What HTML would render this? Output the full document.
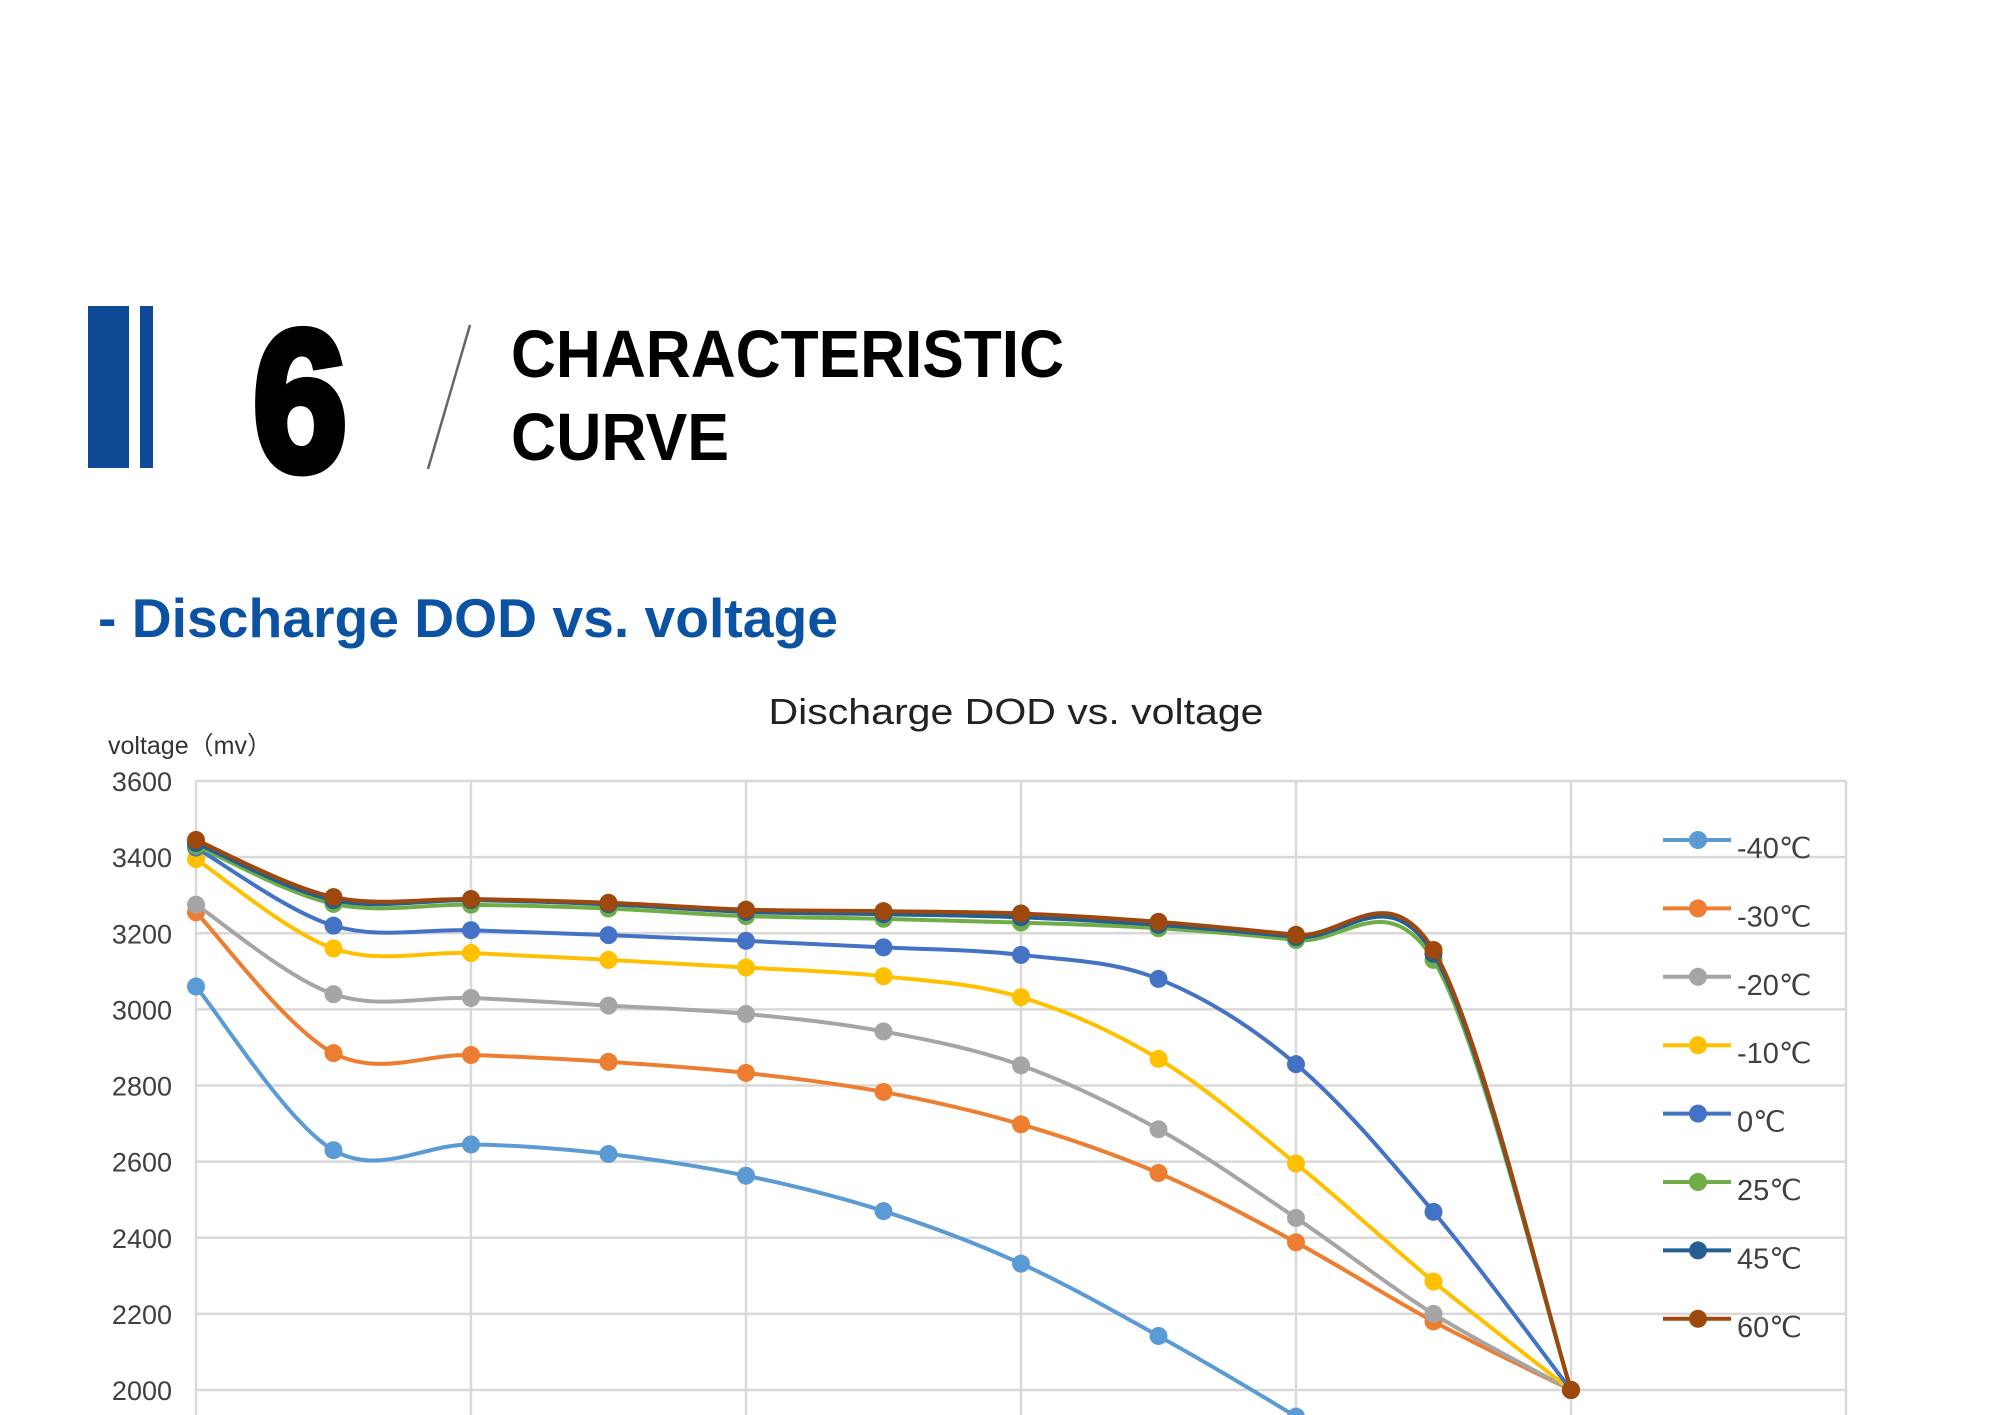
<!DOCTYPE html>
<html><head><meta charset="utf-8"><style>
html,body{margin:0;padding:0;background:#fff;overflow:hidden;width:2000px;height:1415px;}
svg{display:block;}
</style></head><body>
<svg id="page" width="2000" height="1415" viewBox="0 0 2000 1415" xmlns="http://www.w3.org/2000/svg">
<g>
<rect x="88" y="306" width="41" height="162" fill="#0f4a97"/>
<rect x="140" y="306" width="13" height="162" fill="#0f4a97"/>
<text x="300" y="470" text-anchor="middle" font-family="'Liberation Sans',sans-serif" font-weight="bold" font-size="200" stroke="#000" stroke-width="9" transform="translate(300,0) scale(0.85,1) translate(-300,0)" fill="#000">6</text>
<line x1="470" y1="325" x2="428" y2="469" stroke="#666" stroke-width="2.5"/>
<text x="511" y="377" font-family="'Liberation Sans',sans-serif" font-weight="bold" font-size="67" fill="#000" textLength="553" lengthAdjust="spacingAndGlyphs">CHARACTERISTIC</text>
<text x="511" y="460" font-family="'Liberation Sans',sans-serif" font-weight="bold" font-size="67" fill="#000" textLength="218" lengthAdjust="spacingAndGlyphs">CURVE</text>
</g>
<text x="98" y="637" font-family="'Liberation Sans',sans-serif" font-weight="bold" font-size="55" fill="#0c52a2" textLength="740" lengthAdjust="spacingAndGlyphs">- Discharge DOD vs. voltage</text>
<text x="1016" y="724" text-anchor="middle" font-family="'Liberation Sans',sans-serif" font-size="36" fill="#222" textLength="495" lengthAdjust="spacingAndGlyphs">Discharge DOD vs. voltage</text>
<text x="108" y="754" font-family="'Liberation Sans','Noto Sans CJK SC',sans-serif" font-size="25" fill="#333">voltage（mv）</text>
<g id="grid"></g>
<g id="yticks"></g>
<g id="series"></g>
<g id="legend"></g>
</svg>
<script>
const categories = [0,1,2,3,4,5,6,7,8,9,10];
const seriesNames = ['-40℃','-30℃','-20℃','-10℃','0℃','25℃','45℃','60℃'];
const sM40 = [3060,2630,2645,2620,2563,2470,2332,2142,1930,1700,1480];
const sM30 = [3255,2885,2880,2862,2833,2783,2698,2570,2388,2180,2000];
const sM20 = [3275,3040,3030,3010,2988,2942,2853,2685,2452,2200,2000];
const sM10 = [3395,3160,3148,3130,3110,3087,3032,2870,2595,2285,2000];
const s0   = [3425,3220,3208,3195,3180,3163,3143,3080,2856,2468,2000];
const s25  = [3430,3277,3275,3265,3245,3238,3228,3213,3182,3130,2000];
const s45  = [3437,3287,3287,3276,3256,3250,3242,3222,3190,3146,2000];
const s60  = [3445,3295,3290,3280,3262,3258,3252,3230,3196,3156,2000];
const yTicks = [2000,2200,2400,2600,2800,3000,3200,3400,3600];
const colors = ['#5b9bd5','#ed7d31','#a5a5a5','#ffc000','#4472c4','#70ad47','#255e91','#9e480e'];
const allSeries = [sM40,sM30,sM20,sM10,s0,s25,s45,s60];

const NS='http://www.w3.org/2000/svg';
const L=196,R=1846,T=781,B=1390;
const xScale=i=>L+i*(1571-L)/10;
const yScale=v=>B-(v-2000)*(B-T)/1600;
function mk(tag,attrs,parent){const e=document.createElementNS(NS,tag);for(const k in attrs)e.setAttribute(k,attrs[k]);parent.appendChild(e);return e;}
const grid=document.getElementById('grid');
yTicks.forEach(v=>{const l=mk('line',{x1:L,x2:R,y1:yScale(v),y2:yScale(v),stroke:'#d9d9d9','stroke-width':2.5},grid);

});
for(let i=0;i<=12;i+=2){const x=i<=10?xScale(i):R;const l=mk('line',{x1:x,x2:x,y1:T,y2:1415,stroke:'#d9d9d9','stroke-width':2.5},grid);

}
const yt=document.getElementById('yticks');
yTicks.forEach(v=>{const t=mk('text',{x:172,y:yScale(v)+10,'text-anchor':'end','font-family':"'Liberation Sans',sans-serif",'font-size':27,fill:'#404040'},yt);t.textContent=v;

});
const sg=document.getElementById('series');
function smooth(pts){let d='M'+pts[0][0]+','+pts[0][1];
for(let i=0;i<pts.length-1;i++){const p0=pts[Math.max(0,i-1)],p1=pts[i],p2=pts[i+1],p3=pts[Math.min(pts.length-1,i+2)];
const c1=[p1[0]+(p2[0]-p0[0])/6,p1[1]+(p2[1]-p0[1])/6],c2=[p2[0]-(p3[0]-p1[0])/6,p2[1]-(p3[1]-p1[1])/6];
d+=' C'+c1+' '+c2+' '+p2;}return d;}
allSeries.forEach((s,k)=>{const g=mk('g',{},sg);


const pts=categories.map(i=>[xScale(i),yScale(s[i])]);
const p=mk('path',{d:smooth(pts),fill:'none',stroke:colors[k],'stroke-width':4},g);


pts.forEach(q=>{const c=mk('circle',{cx:q[0],cy:q[1],r:9,fill:colors[k]},g);

});});
const lg=document.getElementById('legend');
seriesNames.forEach((n,k)=>{const y=840+k*68.4;const g=mk('g',{},lg);


mk('line',{x1:1663,x2:1731,y1:y,y2:y,stroke:colors[k],'stroke-width':4},g);
mk('circle',{cx:1698,cy:y,r:9,fill:colors[k]},g);
const t=mk('text',{x:1737,y:y+18,'font-family':"'Liberation Sans',sans-serif",'font-size':29,fill:'#404040'},g);t.textContent=n;});
</script>
</body></html>
